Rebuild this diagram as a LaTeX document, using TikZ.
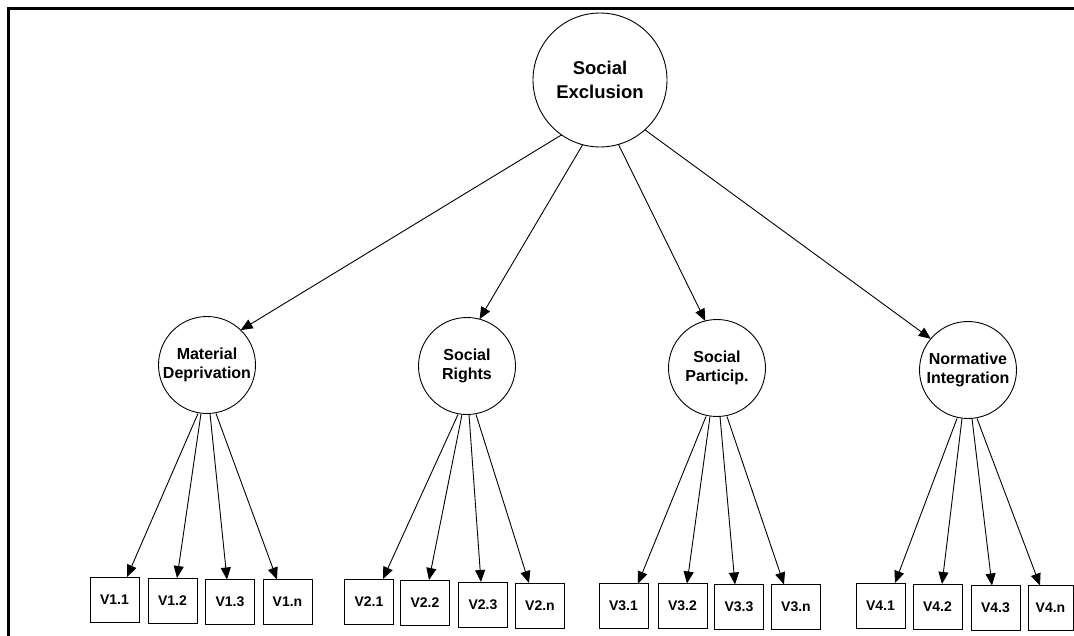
\documentclass[tikz,border=0pt]{standalone}
\usepackage{fontspec}
\setmainfont{Liberation Sans}
\usetikzlibrary{arrows.meta}
\begin{document}
\begin{tikzpicture}[x=1pt,y=-1pt,
  rootnode/.style={circle,draw,line width=0.9pt,inner sep=0pt,outer sep=0pt,align=center,
    font=\fontsize{18.5}{24}\selectfont\bfseries,minimum size=134pt},
  lat/.style={circle,draw,line width=0.9pt,inner sep=0pt,outer sep=0pt,align=center,
    font=\fontsize{16}{19}\selectfont\bfseries,minimum size=97pt},
  obs/.style={rectangle,draw,line width=0.9pt,inner sep=0pt,outer sep=0pt,
    minimum width=49pt,minimum height=45pt,font=\fontsize{14}{16}\selectfont\bfseries},
  arr/.style={-{Triangle[length=12pt,width=10pt]},line width=0.9pt}]
\path[use as bounding box] (0,0) rectangle (1074,636);
\draw[line width=2.2pt] (1074,8.5) -- (8.5,8.5) -- (8.5,636);

\node[rootnode] (SE) at (600,80) {Social\\Exclusion};
\node[lat] (MD) at (207,365) {Material\\Deprivation};
\node[lat] (SR) at (467,366) {Social\\Rights};
\node[lat] (SP) at (717,368) {Social\\Particip.};
\node[lat] (NI) at (968,370) {Normative\\Integration};

\node[obs] (V11) at (114.5,599.5) {V1.1};
\node[obs] (V12) at (172.5,600.5) {V1.2};
\node[obs] (V13) at (230,602) {V1.3};
\node[obs] (V1n) at (287.5,602) {V1.n};
\node[obs] (V21) at (369,601.5) {V2.1};
\node[obs] (V22) at (425,602.5) {V2.2};
\node[obs] (V23) at (483,604.5) {V2.3};
\node[obs] (V2n) at (540,605.5) {V2.n};
\node[obs] (V31) at (623.5,606) {V3.1};
\node[obs] (V32) at (682.5,606) {V3.2};
\node[obs] (V33) at (739,607) {V3.3};
\node[obs] (V3n) at (796,607) {V3.n};
\node[obs] (V41) at (880.5,605.5) {V4.1};
\node[obs] (V42) at (937.5,606.5) {V4.2};
\node[obs] (V43) at (995.5,608) {V4.3};
\node[obs,minimum width=45pt] (V4n) at (1050.5,608) {V4.n};

\draw[arr] (SE.235) -- (MD.46.7);
\draw[arr] (SE.255) -- (SR.75);
\draw[arr] (SE.286) -- (SP.104);
\draw[arr] (SE.312) -- (NI.140);

\draw[arr] ([xshift=-9pt]MD.south) -- ([xshift=12.5pt]V11.north);
\draw[arr] ([xshift=-6pt]MD.south) -- ([xshift=4.5pt]V12.north);
\draw[arr] ([xshift=3pt]MD.south) -- ([xshift=-3pt]V13.north);
\draw[arr] ([xshift=9pt]MD.south) -- ([xshift=-10.5pt]V1n.north);

\draw[arr] ([xshift=-9pt]SR.south) -- ([xshift=14pt]V21.north);
\draw[arr] ([xshift=-5pt]SR.south) -- ([xshift=4pt]V22.north);
\draw[arr] ([xshift=2pt]SR.south) -- ([xshift=-2pt]V23.north);
\draw[arr] ([xshift=9pt]SR.south) -- ([xshift=-11pt]V2n.north);

\draw[arr] ([xshift=-11pt]SP.south) -- ([xshift=14.5pt]V31.north);
\draw[arr] ([xshift=-7pt]SP.south) -- ([xshift=4.5pt]V32.north);
\draw[arr] ([xshift=3pt]SP.south) -- ([xshift=-4pt]V33.north);
\draw[arr] ([xshift=10pt]SP.south) -- ([xshift=-12pt]V3n.north);

\draw[arr] ([xshift=-11pt]NI.south) -- ([xshift=14.5pt]V41.north);
\draw[arr] ([xshift=-6pt]NI.south) -- ([xshift=4.5pt]V42.north);
\draw[arr] ([xshift=4pt]NI.south) -- ([xshift=-3.5pt]V43.north);
\draw[arr] ([xshift=9pt]NI.south) -- ([xshift=-10.5pt]V4n.north);
\end{tikzpicture}
\end{document}
